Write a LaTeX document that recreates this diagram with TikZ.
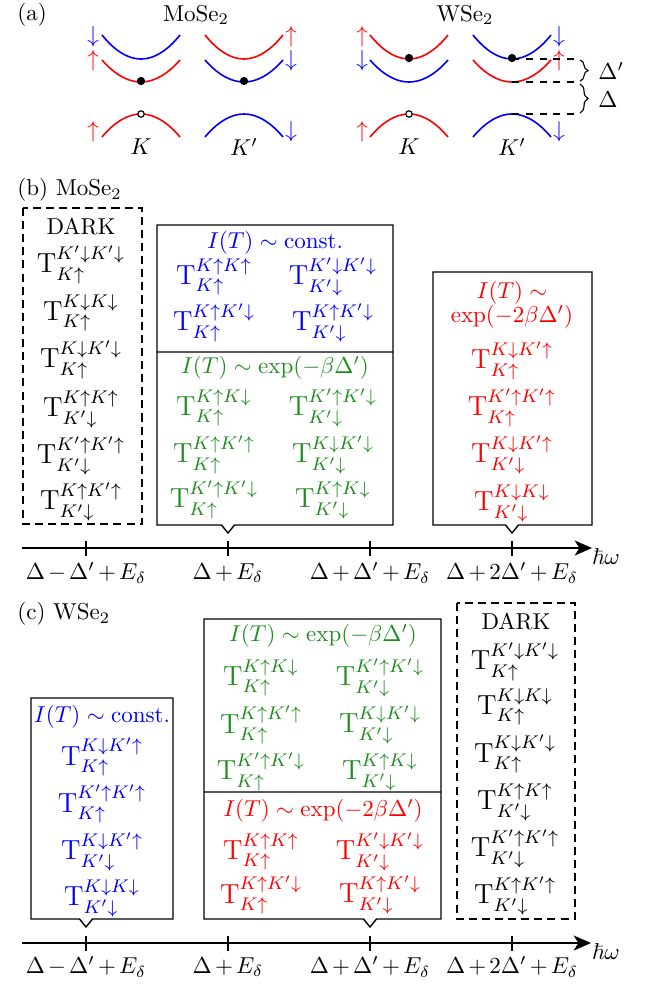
\documentclass[tikz,border=0pt]{standalone}
\usepackage{amsmath,amssymb}
\usetikzlibrary{arrows.meta,decorations.pathreplacing}
\definecolor{dkgreen}{rgb}{0.12,0.55,0.12}
\newcommand{\Ku}{K\uparrow}
\newcommand{\Kd}{K\downarrow}
\newcommand{\Kpu}{K'\uparrow}
\newcommand{\Kpd}{K'\downarrow}
\newcommand{\Tt}[2]{{\large$\mathrm{T}^{#1}_{#2}$}}

\begin{document}
\begin{tikzpicture}[x=0.4348pt,y=-0.4348pt,
band/.style={line width=0.7pt},
box/.style={line width=0.6pt},
darkbox/.style={line width=1pt,dash pattern=on 3.5pt off 2.2pt},
ticklab/.style={font={\medmuskip=2.5mu\relax}},
axis/.style={line width=0.6pt,-{Stealth[length=7.5pt,width=6.5pt,inset=2pt]}}]
\useasboundingbox (0,0) rectangle (651,986);

% (a) band edges
\draw (17,15)node[anchor=west,inner sep=0pt](la){(a)};
\draw (196,15)node(mo){MoSe$_2$} (465,15)node(ws){WSe$_2$};
\draw[band,blue] (102,35) parabola bend (141,59) (180,35);
\draw[band,red] (102,60) parabola bend (141,82) (180,60);
\draw[band,red] (102,137) parabola bend (141,114) (180,137);
\draw[band,red] (205,35) parabola bend (244,59) (283,35);
\draw[band,blue] (205,60) parabola bend (244,82) (283,60);
\draw[band,blue] (205,137) parabola bend (244,114) (283,137);
\draw[band,red] (370,35) parabola bend (409,59) (448,35);
\draw[band,blue] (370,60) parabola bend (409,82) (448,60);
\draw[band,red] (370,137) parabola bend (409,114) (448,137);
\draw[band,blue] (473,35) parabola bend (512,59) (551,35);
\draw[band,red] (473,60) parabola bend (512,82) (551,60);
\draw[band,blue] (473,137) parabola bend (512,114) (551,137);
\fill (141,81) circle (1.8pt) (244,81) circle (1.8pt) (409,58) circle (1.8pt) (512,58) circle (1.8pt);
\draw[fill=white,line width=0.5pt] (141,114) circle (1.4pt) (409,114) circle (1.4pt);
\draw (93,37)node[blue](s1){$\downarrow$} (93,61)node[red](s2){$\uparrow$} (93,132)node[red](s3){$\uparrow$}
(291,37)node[red](s4){$\uparrow$} (291,61)node[blue](s5){$\downarrow$} (291,132)node[blue](s6){$\downarrow$}
(362,37)node[red](s7){$\uparrow$} (362,61)node[blue](s8){$\downarrow$} (362,132)node[red](s9){$\uparrow$}
(559,37)node[blue](s10){$\downarrow$} (559,61)node[red](s11){$\uparrow$} (559,132)node[blue](s12){$\downarrow$};
\draw (141,147)node(k1){$K$} (244,147)node(k2){$K'$} (409,147)node(k3){$K$} (512,147)node(k4){$K'$};
\draw[dashed,line width=0.5pt] (512,59)--(579,59) (512,82)--(579,82) (512,114)--(579,114);
\draw[decorate,decoration={brace,amplitude=3.5pt},line width=0.5pt] (580,60)--(580,81);
\draw[decorate,decoration={brace,amplitude=3.5pt},line width=0.5pt] (580,84)--(580,113);
\draw (598,71)node[anchor=west,inner sep=0pt](dp){$\Delta'$} (598,100)node[anchor=west,inner sep=0pt](dd){$\Delta$};

% (b) MoSe2
\draw (17,190)node[anchor=west,inner sep=0pt](lb){(b) MoSe$_2$};
\draw[darkbox] (23,208) rectangle (142,524);
\draw[box] (157,225)--(393,225)--(393,525)--(234.5,525)--(228,533)--(221.5,525)--(157,525)--cycle
(157,352)--(393,352);
\draw[box] (433,272)--(592,272)--(592,525)--(518.5,525)--(512,533)--(505.5,525)--(433,525)--cycle;
\draw (81,227)node(bd0){DARK}
(81,265)node(bd1){\Tt{\Kpd\Kpd}{\Ku}}
(81,313)node(bd2){\Tt{\Kd\Kd}{\Ku}}
(81,360)node(bd3){\Tt{\Kd\Kpd}{\Ku}}
(81,409)node(bd4){\Tt{\Ku\Ku}{\Kpd}}
(81,456)node(bd5){\Tt{\Kpu\Kpu}{\Kpd}}
(81,502)node(bd6){\Tt{\Ku\Kpu}{\Kpd}};
\begin{scope}[blue]
\draw (275,243)node(bb0){$I(T)\sim\text{const.}$}
(214,277)node(bb1){\Tt{\Ku\Ku}{\Ku}} (333,277)node(bb2){\Tt{\Kpd\Kpd}{\Kpd}}
(214,323)node(bb3){\Tt{\Ku\Kpd}{\Ku}} (333,323)node(bb4){\Tt{\Ku\Kpd}{\Kpd}};
\end{scope}
\begin{scope}[dkgreen]
\draw (275,368)node(bg0){$I(T)\sim\exp(-\beta\Delta')$}
(214,408)node(bg1){\Tt{\Ku\Kd}{\Ku}} (333,408)node(bg2){\Tt{\Kpu\Kpd}{\Kpd}}
(214,455)node(bg3){\Tt{\Ku\Kpu}{\Ku}} (333,455)node(bg4){\Tt{\Kd\Kpd}{\Kpd}}
(214,500)node(bg5){\Tt{\Kpu\Kpd}{\Ku}} (333,500)node(bg6){\Tt{\Ku\Kd}{\Kpd}};
\end{scope}
\begin{scope}[red]
\draw (512,293)node(br0){$I(T)\sim$} (512,317)node(br00){$\exp(-2\beta\Delta')$}
(512,361)node(br1){\Tt{\Kd\Kpu}{\Ku}}
(512,408)node(br2){\Tt{\Kpu\Kpu}{\Ku}}
(512,455)node(br3){\Tt{\Kd\Kpu}{\Kpd}}
(512,503)node(br4){\Tt{\Kd\Kd}{\Kpd}};
\end{scope}
\coordinate (bax0) at (22,548);
\coordinate (bax1) at (592,548);
\draw[axis] (bax0)--(bax1);
\draw (606,557)node(bhw){$\hbar\omega$};
\draw[box] (86,541)--(86,556) (228,541)--(228,556) (370,541)--(370,556) (512,541)--(512,556);
\draw (86,573)node[ticklab](bt1){$\Delta-\Delta'+E_\delta$} (228,573)node[ticklab](bt2){$\Delta+E_\delta$}
(370,573)node[ticklab](bt3){$\Delta+\Delta'+E_\delta$} (512,573)node[ticklab](bt4){$\Delta+2\Delta'+E_\delta$};

% (c) WSe2
\draw (17,614)node[anchor=west,inner sep=0pt](lc){(c) WSe$_2$};
\draw[box] (31,698)--(173,698)--(173,919)--(92.5,919)--(86,927)--(79.5,919)--(31,919)--cycle;
\draw[box] (204,619)--(441,619)--(441,919)--(376.5,919)--(370,927)--(363.5,919)--(204,919)--cycle
(204,792)--(441,792);
\draw[darkbox] (457,603) rectangle (575,919);
\begin{scope}[blue]
\draw (102,717)node(cb0){$I(T)\sim\text{const.}$}
(102,757)node(cb1){\Tt{\Kd\Kpu}{\Ku}}
(102,804)node(cb2){\Tt{\Kpu\Kpu}{\Ku}}
(102,852)node(cb3){\Tt{\Kd\Kpu}{\Kpd}}
(102,898)node(cb4){\Tt{\Kd\Kd}{\Kpd}};
\end{scope}
\begin{scope}[dkgreen]
\draw (323,636)node(cg0){$I(T)\sim\exp(-\beta\Delta')$}
(261,678)node(cg1){\Tt{\Ku\Kd}{\Ku}} (380,678)node(cg2){\Tt{\Kpu\Kpd}{\Kpd}}
(261,725)node(cg3){\Tt{\Ku\Kpu}{\Ku}} (380,725)node(cg4){\Tt{\Kd\Kpd}{\Kpd}}
(261,772)node(cg5){\Tt{\Kpu\Kpd}{\Ku}} (380,772)node(cg6){\Tt{\Ku\Kd}{\Kpd}};
\end{scope}
\begin{scope}[red]
\draw (323,811)node(cr0){$I(T)\sim\exp(-2\beta\Delta')$}
(261,852)node(cr1){\Tt{\Ku\Ku}{\Ku}} (380,852)node(cr2){\Tt{\Kpd\Kpd}{\Kpd}}
(261,895)node(cr3){\Tt{\Ku\Kpd}{\Ku}} (380,895)node(cr4){\Tt{\Ku\Kpd}{\Kpd}};
\end{scope}
\draw (516,622)node(cd0){DARK}
(515,662)node(cd1){\Tt{\Kpd\Kpd}{\Ku}}
(515,707)node(cd2){\Tt{\Kd\Kd}{\Ku}}
(515,754)node(cd3){\Tt{\Kd\Kpd}{\Ku}}
(515,802)node(cd4){\Tt{\Ku\Ku}{\Kpd}}
(515,849)node(cd5){\Tt{\Kpu\Kpu}{\Kpd}}
(515,896)node(cd6){\Tt{\Ku\Kpu}{\Kpd}};
\coordinate (cax0) at (22,943);
\coordinate (cax1) at (591,943);
\draw[axis] (cax0)--(cax1);
\draw (606,952)node(chw){$\hbar\omega$};
\draw[box] (86,936)--(86,951) (228,936)--(228,951) (370,936)--(370,951) (512,936)--(512,951);
\draw (86,967)node[ticklab](ct1){$\Delta-\Delta'+E_\delta$} (228,967)node[ticklab](ct2){$\Delta+E_\delta$}
(370,967)node[ticklab](ct3){$\Delta+\Delta'+E_\delta$} (512,967)node[ticklab](ct4){$\Delta+2\Delta'+E_\delta$};
\end{tikzpicture}
\end{document}
